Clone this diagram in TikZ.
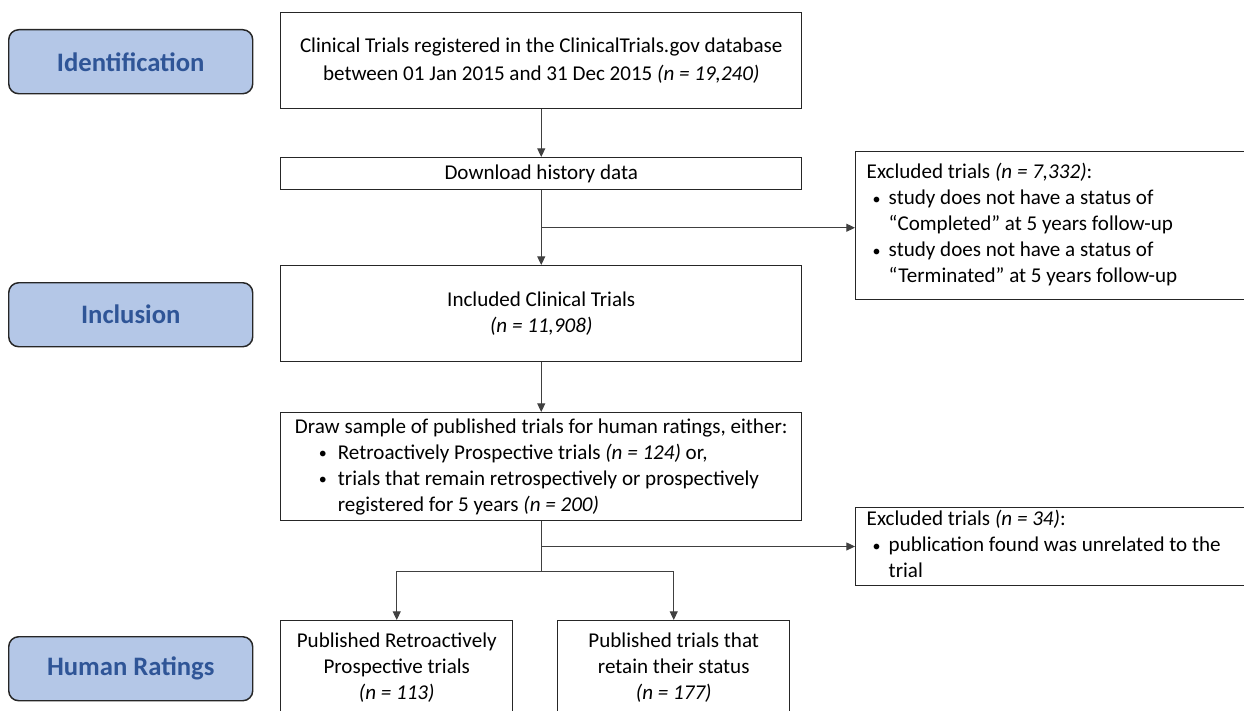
\documentclass[tikz,border=0pt]{standalone}
\usepackage{fontspec}
\setmainfont{Carlito}
\usetikzlibrary{arrows.meta,calc}
\definecolor{lblfill}{HTML}{B4C7E7}
\definecolor{lbltext}{HTML}{2F5597}
\definecolor{edgecol}{HTML}{262626}
\definecolor{conncol}{HTML}{404040}
\newcommand\smbul{{\fontsize{12pt}{12pt}\selectfont\raisebox{0.6pt}{\textbullet}}}
\begin{document}
\begin{tikzpicture}[x=0.75pt,y=-0.75pt,
  every node/.style={font=\fontsize{15.8pt}{19.5pt}\selectfont},
  box/.style={draw=edgecol,line width=1.1pt,inner sep=0pt,anchor=north west,align=center},
  exbox/.style={box,inner xsep=8.25pt},
  lblbox/.style={draw=edgecol,line width=1.1pt,fill=lblfill,rounded corners=7.5pt,anchor=north west,
    minimum width=244*0.75pt,minimum height=64*0.75pt,inner sep=0pt,
    font=\fontsize{20pt}{24pt}\selectfont\bfseries,text=lbltext},
  conn/.style={draw=conncol,line width=0.75pt},
  arr/.style={conn,-{Triangle[length=6.5pt,width=6pt]}}]
\useasboundingbox (0,0) rectangle (1244,710);
\clip (0,0) rectangle (1244,710);

% stage labels
\node[lblbox] (lid) at (8,29) {Identification};
\node[lblbox] (lin) at (8,282) {Inclusion};
\node[lblbox] (lhr) at (8,636) {Human Ratings};

% main boxes
\node[box,minimum width=521*0.75pt,minimum height=96*0.75pt] (b1) at (280,12)
  {Clinical Trials registered in the ClinicalTrials.gov database\\[1.5pt]
   between 01 Jan 2015 and 31 Dec 2015 \textit{(n = 19,240)}};
\node[box,minimum width=521*0.75pt,minimum height=32*0.75pt] (b2) at (280,157)
  {Download history data};
\node[box,minimum width=521*0.75pt,minimum height=96*0.75pt] (b3) at (280,265)
  {Included Clinical Trials\\ \textit{(n = 11,908)}};
\node[box,minimum width=521*0.75pt,minimum height=108*0.75pt,align=left] (b4) at (280,412)
  {Draw sample of published trials for human ratings, either:\\
   \hspace*{18pt}\makebox[14.25pt][l]{\smbul}Retroactively Prospective trials \textit{(n = 124)} or,\\
   \hspace*{18pt}\makebox[14.25pt][l]{\smbul}trials that remain retrospectively or prospectively\\
   \hspace*{32.25pt}registered for 5 years \textit{(n = 200)}};
\node[box,minimum width=232*0.75pt,minimum height=94*0.75pt] (b5) at (280,620)
  {Published Retroactively\\ Prospective trials\\ \textit{(n = 113)}};
\node[box,minimum width=232*0.75pt,minimum height=94*0.75pt] (b6) at (557,620)
  {Published trials that\\ retain their status\\ \textit{(n = 177)}};

% exclusion boxes
\node[exbox,minimum height=148*0.75pt] (ex1) at (855,151)
  {\makebox[298.5pt][l]{\begin{tabular}{@{}l@{}}
   Excluded trials \textit{(n = 7,332)}:\\
   \hspace*{4.5pt}\makebox[12pt][l]{\smbul}study does not have a status of\\
   \hspace*{16.5pt}“Completed” at 5 years follow-up\\
   \hspace*{4.5pt}\makebox[12pt][l]{\smbul}study does not have a status of\\
   \hspace*{16.5pt}“Terminated” at 5 years follow-up
   \end{tabular}}};
\node[exbox,minimum height=77*0.75pt] (ex2) at (855,507)
  {\makebox[298.5pt][l]{\begin{tabular}{@{}l@{}}
   Excluded trials \textit{(n = 34)}:\\
   \hspace*{4.5pt}\makebox[12pt][l]{\smbul}publication found was unrelated to the\\
   \hspace*{16.5pt}trial
   \end{tabular}}};

% connectors
\draw[arr] (b1.south) -- (b2.north);
\draw[arr] (b2.south) -- (b3.north);
\coordinate (j1) at ($(b2.south)!0.5!(b3.north)$);
\draw[arr] (j1) -- (j1 -| ex1.west);
\draw[arr] (b3.south) -- (b4.north);
\coordinate (j2) at ($(b4.south)+(0,25)$);
\coordinate (j3) at ($(b4.south)+(0,50)$);
\draw[conn] (b4.south) -- (j3);
\draw[arr] (j2) -- (j2 -| ex2.west);
\draw[conn] (j3 -| b5.north) -- (j3 -| b6.north);
\draw[arr] (j3 -| b5.north) -- (b5.north);
\draw[arr] (j3 -| b6.north) -- (b6.north);
\end{tikzpicture}
\end{document}
